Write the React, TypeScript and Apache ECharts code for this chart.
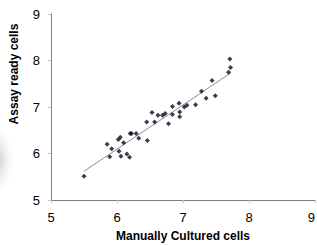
import React, { useEffect, useRef } from "react";
import * as echarts from "echarts";

const manualCells = [5.5, 5.85, 5.92, 5.89, 6.02, 6.05, 6.03, 6.06, 6.1, 6.15, 6.19, 6.2, 6.22, 6.29, 6.33, 6.46, 6.45, 6.53, 6.57, 6.62, 6.69, 6.73, 6.78, 6.84, 6.84, 6.94, 6.95, 6.95, 7.02, 7.06, 7.19, 7.28, 7.35, 7.44, 7.49, 7.69, 7.72, 7.71];
const assayCells = [5.51, 6.2, 6.1, 5.93, 6.3, 6.35, 6.05, 5.94, 6.23, 5.99, 5.92, 6.43, 6.43, 6.43, 6.33, 6.28, 6.68, 6.88, 6.68, 6.82, 6.82, 6.86, 6.64, 7.01, 6.84, 7.08, 6.89, 6.79, 7.0, 7.04, 7.05, 7.34, 7.19, 7.57, 7.24, 7.75, 7.85, 8.03];
const tickValues = [5, 6, 7, 8, 9];

function regression(xs: number[], ys: number[]) {
  const n = xs.length;
  const mx = xs.reduce((a, b) => a + b, 0) / n;
  const my = ys.reduce((a, b) => a + b, 0) / n;
  let sxy = 0, sxx = 0;
  for (let i = 0; i < n; i++) {
    sxy += (xs[i] - mx) * (ys[i] - my);
    sxx += (xs[i] - mx) ** 2;
  }
  const b = sxy / sxx;
  return { a: my - b * mx, b };
}

export default function App() {
  const ref = useRef<HTMLDivElement>(null);
  useEffect(() => {
    if (!ref.current) return;
    document.body.style.margin = "0";
    document.body.style.overflow = "hidden";
    const chart = echarts.init(ref.current, null, { renderer: "svg" });
    const { a, b } = regression(manualCells, assayCells);
    const xmin = Math.min(...manualCells);
    const xmax = Math.max(...manualCells);
    const font = "Liberation Sans, Arial, sans-serif";
    chart.setOption({
      animation: false,
      backgroundColor: "#ffffff",
      grid: { left: 51, top: 14, right: 2, bottom: 45, outerBoundsMode: "none", containLabel: false },
      graphic: [
        {
          type: "ellipse",
          shape: { cx: -4, cy: 160, rx: 20, ry: 38 },
          style: {
            fill: new echarts.graphic.RadialGradient(0.5, 0.5, 0.5, [
              { offset: 0, color: "rgba(150,150,150,0.6)" },
              { offset: 1, color: "rgba(255,255,255,0)" },
            ]),
          },
          z: -1,
        },
        {
          type: "text",
          x: 14,
          y: 74,
          rotation: Math.PI / 2,
          style: {
            text: "Assay ready cells",
            font: `bold 12px ${font}`,
            fill: "#000",
            align: "center",
            verticalAlign: "middle",
          },
        },
      ],
      xAxis: {
        type: "value",
        min: 5,
        max: 9,
        interval: 1,
        name: "Manually Cultured cells",
        nameLocation: "middle",
        nameGap: 30,
        nameTextStyle: { fontFamily: font, fontWeight: "bold", fontSize: 12, color: "#000" },
        axisLine: { lineStyle: { color: "#808080" } },
        axisTick: { show: true, length: 3, lineStyle: { color: "#c0c0c0" } },
        axisLabel: {
          fontFamily: font,
          fontSize: 13,
          color: "#000",
          margin: 11,
          alignMaxLabel: "right",
          formatter: (v: number) => (tickValues.includes(v) ? String(v) : ""),
        },
        splitLine: { show: false },
      },
      yAxis: {
        type: "value",
        min: 5,
        max: 9,
        interval: 1,
        axisLine: { show: true, lineStyle: { color: "#808080" } },
        axisTick: { show: true, length: 3, lineStyle: { color: "#c0c0c0" } },
        axisLabel: { fontFamily: font, fontSize: 13, color: "#000", margin: 11 },
        splitLine: { show: false },
      },
      series: [
        {
          type: "line",
          data: [
            [xmin, a + b * xmin],
            [xmax, a + b * xmax],
          ],
          symbol: "none",
          lineStyle: { color: "#707070", width: 0.8 },
          z: 1,
        },
        {
          type: "scatter",
          data: manualCells.map((x, i) => [x, assayCells[i]]),
          symbol: "diamond",
          symbolSize: 5,
          itemStyle: { color: "#0a0a20" },
          z: 2,
        },
      ],
    });
    return () => chart.dispose();
  }, []);
  return <div ref={ref} style={{ position: "absolute", left: 0, top: 0, width: 317, height: 245 }} />;
}
